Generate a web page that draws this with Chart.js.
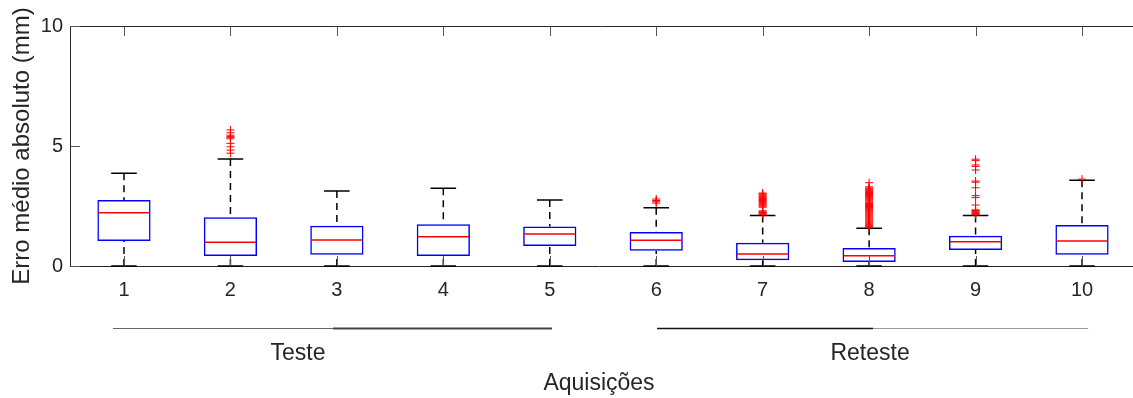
<!DOCTYPE html>
<html>
<head>
<meta charset="utf-8">
<script src="https://cdn.jsdelivr.net/npm/chart.js@4.4.1/dist/chart.umd.min.js"></script>
<style>
  html, body { margin: 0; padding: 0; background: #fff; }
  #wrap { position: relative; width: 1133px; height: 398px; }
</style>
</head>
<body>
<div id="wrap"><canvas id="myChart"></canvas></div>
<script>
// Aquisições 1..10 (boxplot do erro médio absoluto, mm)
const categories = [1, 2, 3, 4, 5, 6, 7, 8, 9, 10];
const whiskerLow = [0, 0, 0, 0, 0, 0, 0, 0, 0, 0];
const q1 = [1.04, 0.42, 0.47, 0.42, 0.83, 0.64, 0.24, 0.17, 0.67, 0.47];
const medians = [2.22, 0.99, 1.08, 1.22, 1.33, 1.07, 0.5, 0.43, 1.01, 1.04];
const q3 = [2.75, 2.03, 1.68, 1.74, 1.65, 1.42, 0.97, 0.75, 1.26, 1.71];
const whiskerHigh = [3.86, 4.46, 3.13, 3.24, 2.75, 2.43, 2.1, 1.57, 2.1, 3.57];

// outliers por aquisição
const outliers = [
  [],
  [4.7, 4.83, 4.97, 5.11, 5.3, 5.36, 5.4, 5.45, 5.55, 5.67],
  [],
  [],
  [],
  [2.62, 2.68, 2.73, 2.79],
  [2.14, 2.17, 2.2, 2.23, 2.26, 2.3, 2.45, 2.49, 2.53, 2.57, 2.61, 2.65, 2.69, 2.73,
   2.77, 2.81, 2.85, 2.89, 2.93, 2.97, 3.01, 3.04],
  [1.6, 1.64, 1.68, 1.72, 1.76, 1.8, 1.84, 1.88, 1.92, 1.96, 2.0, 2.04, 2.08, 2.12,
   2.16, 2.2, 2.24, 2.28, 2.32, 2.36, 2.4, 2.44, 2.48, 2.52, 2.56, 2.6, 2.64, 2.7,
   2.74, 2.78, 2.82, 2.86, 2.9, 2.94, 2.98, 3.02, 3.06, 3.1, 3.14, 3.18, 3.22, 3.25,
   3.3, 3.47],
  [2.13, 2.16, 2.19, 2.22, 2.25, 2.28, 2.31, 2.34, 2.54, 2.85, 2.93, 3.26, 3.49, 3.54,
   4.0, 4.15, 4.21, 4.39, 4.45],
  [3.62]
];

const yTicks = [0, 5, 10];

// grupos embaixo do eixo x
const groupLabels = ["Teste", "Reteste"];
const groupFrom = [0.897, 6.008];
const groupTo = [5.021, 10.058];
const groupLabelAt = [2.635, 8.009];

const FONT = '"Liberation Sans", Arial, Helvetica, sans-serif';
const TEXT = "#262626";
const capHalf = 0.12;

const boxPlot = {
  id: "boxPlot",
  beforeDatasetsDraw(chart) {
    const { ctx, scales: { x, y } } = chart;
    ctx.save();
    ctx.strokeStyle = "#000";
    ctx.lineWidth = 1.5;
    categories.forEach((c, i) => {
      const px = x.getPixelForValue(c);
      ctx.setLineDash([7, 5]);
      ctx.beginPath();
      ctx.moveTo(px, y.getPixelForValue(whiskerHigh[i]));
      ctx.lineTo(px, y.getPixelForValue(q3[i]));
      ctx.moveTo(px, y.getPixelForValue(whiskerLow[i]));
      ctx.lineTo(px, y.getPixelForValue(q1[i]));
      ctx.stroke();
      ctx.setLineDash([]);
      ctx.beginPath();
      [whiskerHigh[i], whiskerLow[i]].forEach((v) => {
        const py = y.getPixelForValue(v);
        ctx.moveTo(x.getPixelForValue(c - capHalf), py);
        ctx.lineTo(x.getPixelForValue(c + capHalf), py);
      });
      ctx.stroke();
    });
    ctx.restore();
  },
  afterDatasetsDraw(chart) {
    const { ctx, scales: { x, y } } = chart;
    ctx.save();
    ctx.strokeStyle = "#ff0000";
    ctx.lineWidth = 1.5;
    categories.forEach((c, i) => {
      const py = y.getPixelForValue(medians[i]);
      ctx.beginPath();
      ctx.moveTo(x.getPixelForValue(c - 0.25) + 1, py);
      ctx.lineTo(x.getPixelForValue(c + 0.25) - 1, py);
      ctx.stroke();
    });
    ctx.restore();
  },
  afterDraw(chart) {
    const { ctx, chartArea: a, scales: { x, y } } = chart;
    ctx.save();
    // moldura (cima e prolongamento do eixo x até a borda) e ticks para dentro
    ctx.strokeStyle = TEXT;
    ctx.lineWidth = 1;
    ctx.beginPath();
    ctx.moveTo(a.left, a.top + 0.5);
    ctx.lineTo(chart.width, a.top + 0.5);
    ctx.moveTo(a.right - 1, Math.round(a.bottom) + 0.5);
    ctx.lineTo(chart.width, Math.round(a.bottom) + 0.5);
    ctx.stroke();
    ctx.strokeStyle = "#555";
    ctx.beginPath();
    categories.forEach((c) => {
      const px = Math.round(x.getPixelForValue(c)) + 0.5;
      ctx.moveTo(px, a.top);
      ctx.lineTo(px, a.top + 10);
      ctx.moveTo(px, a.bottom);
      ctx.lineTo(px, a.bottom - 10);
    });
    yTicks.forEach((v) => {
      const py = Math.round(y.getPixelForValue(v)) + 0.5;
      ctx.moveTo(a.left, py);
      ctx.lineTo(a.left + 10, py);
    });
    ctx.stroke();

    // linhas e rótulos dos grupos
    const lineY = 328.5;
    const segs = [
      [groupFrom[0], 2.964, "#666", 1],
      [2.964, groupTo[0], "#444", 2],
      [groupFrom[1], 8.037, "#111", 1.5],
      [8.037, groupTo[1], "#999", 1]
    ];
    segs.forEach(([f, t, col, w]) => {
      ctx.strokeStyle = col;
      ctx.lineWidth = w;
      ctx.beginPath();
      ctx.moveTo(x.getPixelForValue(f), lineY);
      ctx.lineTo(x.getPixelForValue(t), lineY);
      ctx.stroke();
    });
    ctx.fillStyle = TEXT;
    ctx.font = "23px " + FONT;
    ctx.textAlign = "center";
    ctx.textBaseline = "middle";
    groupLabels.forEach((g, i) => {
      ctx.fillText(g, x.getPixelForValue(groupLabelAt[i]), 354);
    });
    ctx.restore();
  }
};

const ctx = document.getElementById("myChart");

new Chart(ctx, {
  type: "bar",
  data: {
    datasets: [
      {
        type: "scatter",
        label: "outliers",
        data: outliers.flatMap((vals, i) => vals.map((v) => ({ x: categories[i], y: v }))),
        pointStyle: "cross",
        pointRadius: 4,
        borderWidth: 1,
        borderColor: "#ff0000",
        backgroundColor: "#ff0000"
      },
      {
        type: "bar",
        label: "caixas",
        data: categories.map((c, i) => ({ x: c, y: [q1[i], q3[i]] })),
        backgroundColor: "rgba(255,255,255,0)",
        borderColor: "#0000ff",
        borderWidth: 1.5,
        borderSkipped: false,
        barPercentage: 0.5,
        categoryPercentage: 1.0
      }
    ]
  },
  options: {
    responsive: true,
    maintainAspectRatio: false,
    animation: false,
    layout: { padding: { top: 26, left: 0, right: 0, bottom: 0 } },
    plugins: {
      legend: { display: false },
      tooltip: { enabled: false }
    },
    scales: {
      x: {
        type: "linear",
        min: 0.493,
        max: 10.432,
        offset: false,
        grid: { display: false, drawTicks: false, tickLength: 0 },
        border: { display: true, color: TEXT, width: 1 },
        ticks: { color: TEXT, font: { family: FONT, size: 20 }, padding: 12 },
        afterBuildTicks: (scale) => {
          scale.ticks = categories.map((v) => ({ value: v }));
        },
        afterFit: (scale) => { scale.height = 132; },
        title: {
          display: true,
          text: "Aquisições",
          color: TEXT,
          font: { family: FONT, size: 23 },
          padding: { top: 0, bottom: 1 }
        }
      },
      y: {
        min: 0,
        max: 10,
        grid: { display: false, drawTicks: false, tickLength: 0 },
        border: { display: true, color: TEXT, width: 1 },
        ticks: { stepSize: 5, color: TEXT, font: { family: FONT, size: 20 }, padding: 7 },
        afterBuildTicks: (scale) => {
          scale.ticks = yTicks.map((v) => ({ value: v }));
        },
        afterFit: (scale) => { scale.width = 70; },
        title: {
          display: true,
          text: "Erro médio absoluto (mm)",
          color: TEXT,
          font: { family: FONT, size: 24 },
          padding: { top: 8, bottom: 0 }
        }
      }
    }
  },
  plugins: [boxPlot]
});
</script>
</body>
</html>
